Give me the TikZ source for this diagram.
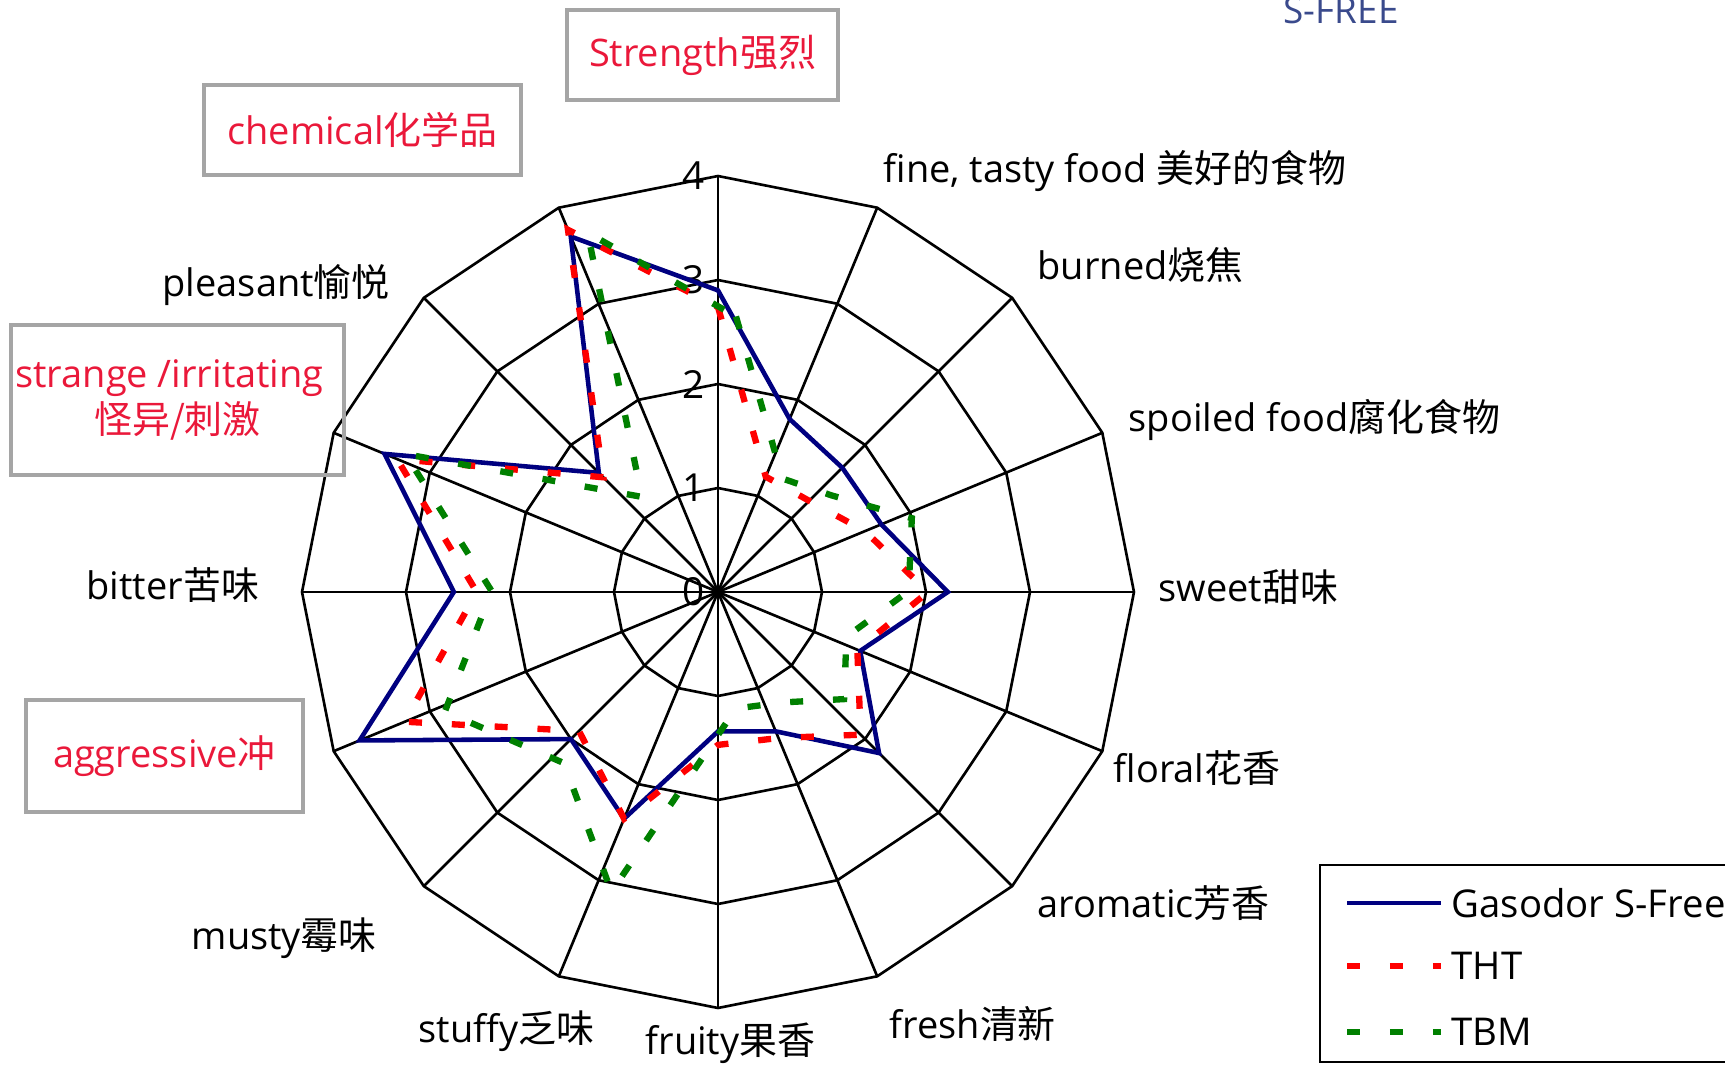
\documentclass[tikz,border=0pt]{standalone}
\usepackage{fontspec}
\setmainfont{Open Sans}
\newfontfamily\zhfont{Noto Sans CJK SC}
\newcommand{\zh}[1]{{\zhfont #1}}

\definecolor{gasnavy}{RGB}{0,0,128}
\definecolor{thtred}{RGB}{255,0,0}
\definecolor{tbmgreen}{RGB}{0,128,0}
\definecolor{notered}{RGB}{234,24,58}
\definecolor{boxgray}{RGB}{165,165,165}
\definecolor{logoblue}{RGB}{58,74,140}

\tikzset{
  gridline/.style={black, line width=0.75pt},
  gasline/.style={gasnavy, line width=1.3pt},
  thtline/.style={thtred, line width=1.8pt, dash pattern=on 3.7pt off 8.5pt},
  tbmline/.style={tbmgreen, line width=1.8pt, dash pattern=on 3.7pt off 8.5pt},
  axlbl/.style={inner sep=0pt, anchor=west, font=\fontsize{10.8}{12.8}\selectfont},
  ticklbl/.style={inner sep=0pt, anchor=east, font=\fontsize{11}{13}\selectfont},
  notebox/.style={draw=boxgray, line width=0.9pt, inner sep=0pt, text=notered,
    align=center, font=\fontsize{10.8}{13.1}\selectfont},
  leglbl/.style={inner sep=0pt, anchor=west, font=\fontsize{10.9}{13}\selectfont}
}

\begin{document}
\begin{tikzpicture}
\useasboundingbox (0,0) rectangle (17.25,10.64);
\coordinate (ctr) at (7.18,4.72);

\begin{scope}[shift={(ctr)}, x=1.04cm, y=1.04cm]
% rings and spokes
\foreach \r in {1,...,4}
  \draw[gridline] (90:\r) \foreach \k in {1,...,15} {-- (90-22.5*\k:\r)} -- cycle;
\foreach \k in {0,...,15}
  \draw[gridline] (0,0) -- (90-22.5*\k:4);
\foreach \r in {0,...,4}
  \node[ticklbl] (tick\r) at (-0.12,\r) {\r};

% Gasodor S-Free
\draw[gasline] (90:2.9) -- (67.5:1.8) -- (45:1.69) -- (22.5:1.7) -- (0:2.21)
  -- (-22.5:1.48) -- (-45:2.19) -- (-67.5:1.45) -- (-90:1.34) -- (-112.5:2.36)
  -- (-135:2.0) -- (-157.5:3.73) -- (180:2.54) -- (157.5:3.47) -- (135:1.62)
  -- (112.5:3.7) -- cycle;
% THT
\draw[thtline] (90:2.74) -- (67.5:1.2) -- (45:1.24) -- (22.5:1.53) -- (0:2.02)
  -- (-22.5:1.45) -- (-45:1.94) -- (-67.5:1.52) -- (-90:1.47) -- (-112.5:2.36)
  -- (-135:1.89) -- (-157.5:3.26) -- (180:2.32) -- (157.5:3.34) -- (135:1.56)
  -- (112.5:3.77) -- cycle;
% TBM
\begin{scope}[xshift=1.8mm, yshift=0.1mm]
\draw[tbmline] (90:2.64) -- (67.5:1.17) -- (45:1.3) -- (22.5:1.83) -- (0:1.66)
  -- (-22.5:1.15) -- (-45:1.47) -- (-67.5:1.16) -- (-90:1.13) -- (-112.5:3.13)
  -- (-135:2.34) -- (-157.5:3.03) -- (180:2.35) -- (157.5:3.44) -- (135:1.28)
  -- (112.5:3.73) -- cycle;
\end{scope}
\end{scope}

% axis labels
\node[axlbl] (lblFine) at (8.83,8.93) {fine, tasty food \zh{美好的食物}};
\node[axlbl] (lblBurned) at (10.37,7.99) {burned\zh{烧焦}};
\node[axlbl] (lblSpoiled) at (11.28,6.44) {spoiled food\zh{腐化食物}};
\node[axlbl] (lblSweet) at (11.58,4.77) {sweet\zh{甜味}};
\node[axlbl] (lblFloral) at (11.13,2.96) {floral\zh{花香}};
\node[axlbl] (lblAromatic) at (10.37,1.61) {aromatic\zh{芳香}};
\node[axlbl] (lblFresh) at (8.89,0.40) {fresh\zh{清新}};
\node[axlbl] (lblFruity) at (6.45,0.21) {fruity\zh{果香}};
\node[axlbl] (lblStuffy) at (4.18,0.33) {stuffy\zh{乏味}};
\node[axlbl] (lblMusty) at (1.91,1.26) {musty\zh{霉味}};
\node[axlbl] (lblBitter) at (0.86,4.79) {bitter\zh{苦味}};
\node[axlbl] (lblPleasant) at (1.62,7.79) {pleasant\zh{愉悦}};

% boxed notes
\node[notebox, minimum width=2.71cm, minimum height=0.9cm] (boxStrength)
  at (7.025,10.09) {Strength\zh{强烈}};
\node[notebox, minimum width=3.17cm, minimum height=0.9cm] (boxChemical)
  at (3.625,9.34) {chemical\zh{化学品}};
\node[notebox, minimum width=3.33cm, minimum height=1.5cm] (boxStrange)
  at (1.775,6.64) {\hspace*{-0.16cm}strange /irritating\\\zh{怪异/刺激}};
\node[notebox, minimum width=2.77cm, minimum height=1.12cm] (boxAggressive)
  at (1.645,3.08) {aggressive\zh{冲}};

% logo text, cut by the page edge
\node[anchor=base, inner sep=0pt, text=logoblue, font=\fontsize{10.5}{12}\selectfont]
  (logoText) at (13.41,10.41) {S-FREE};

% legend
\draw[line width=0.8pt] (13.20,0.02) rectangle (17.6,1.99);
\node[leglbl] (legGas) at (14.51,1.61) {Gasodor S-Free};
\node[leglbl] (legTht) at (14.51,0.98) {THT};
\node[leglbl] (legTbm) at (14.51,0.32) {TBM};
\draw[gasline] ([xshift=-1.04cm]legGas.west) -- ([xshift=-0.1cm]legGas.west);
\draw[thtline] ([xshift=-1.04cm]legTht.west) -- ([xshift=-0.1cm]legTht.west);
\draw[tbmline] ([xshift=-1.04cm]legTbm.west) -- ([xshift=-0.1cm]legTbm.west);
\end{tikzpicture}
\end{document}
